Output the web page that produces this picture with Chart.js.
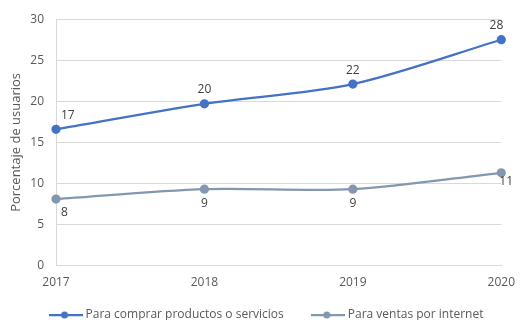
<!DOCTYPE html>
<html>
<head>
<meta charset="utf-8">
<script src="https://cdn.jsdelivr.net/npm/chart.js@4"></script>
<style>
  html, body { margin: 0; padding: 0; background: #fff; }
  #wrap { width: 525px; height: 320px; }
</style>
</head>
<body>
<div id="wrap"><canvas id="chart"></canvas></div>
<script>
var years = ["2017", "2018", "2019", "2020"];
var compras = [16.6, 19.7, 22.1, 27.5];
var ventas = [8.1, 9.3, 9.3, 11.3];
var seriesNames = ["Para comprar productos o servicios", "Para ventas por internet"];
var yTicks = [0, 5, 10, 15, 20, 25, 30];

var textColor = "#595959";
var gridColor = "#d9d9d9";
var fontFamily = "'Open Sans', 'Liberation Sans', sans-serif";

// legend marker: short line with a dot in the middle
makeMarker = (color) => {
    var c = document.createElement("canvas");
    c.width = 34; c.height = 10;
    var ctx = c.getContext("2d");
    ctx.strokeStyle = color;
    ctx.lineWidth = 2.25;
    ctx.beginPath(); ctx.moveTo(0, 5); ctx.lineTo(34, 5); ctx.stroke();
    ctx.fillStyle = color;
    ctx.beginPath(); ctx.arc(16, 5, 3.5, 0, Math.PI * 2); ctx.fill();
    return c;
}

// value labels above / below the points
var valueLabels = {
    id: "valueLabels",
    afterDatasetsDraw: (chart) => {
        var ctx = chart.ctx;
        ctx.save();
        ctx.font = "12px " + fontFamily;
        ctx.fillStyle = "#404040";
        ctx.textBaseline = "middle";
        chart.data.datasets.forEach((ds, di) => {
            var meta = chart.getDatasetMeta(di);
            meta.data.forEach((pt, i) => {
                var txt = String(Math.round(ds.data[i]));
                var x = pt.x, y = di === 0 ? pt.y - 14 : pt.y + 14;
                ctx.textAlign = "center";
                if (i === 0) { ctx.textAlign = "left"; x += 5; }
                if (i === ds.data.length - 1) {
                    if (di === 0) { ctx.textAlign = "right"; x += 2; }
                    else { ctx.textAlign = "left"; x -= 2; y -= 5; }
                }
                ctx.fillText(txt, x, y);
            });
        });
        ctx.restore();
    }
};

// legend: take less room at the bottom, nudge the items into place
var legendFit = {
    id: "legendFit",
    beforeUpdate: (chart) => {
        var lg = chart.legend;
        if (lg && !lg._patched) {
            var fit = lg.fit, draw = lg.draw;
            lg.fit = function () { fit.call(this); this.height -= 32; };
            lg.draw = function () {
                var dx = 12, dy = -21;
                this.top += dy; this.left += dx; this.right += dx;
                draw.call(this);
                this.top -= dy; this.left -= dx; this.right -= dx;
            };
            lg._patched = true;
        }
    }
};

drawChart = () => {
    var colors = ["#4472C4", "#8497B0"];
    new Chart(document.getElementById("chart"), {
        type: "line",
        data: {
            labels: years,
            datasets: [{
                label: seriesNames[0],
                data: compras,
                borderColor: colors[0],
                backgroundColor: colors[0],
                borderWidth: 2.25,
                pointRadius: 3.5,
                pointHoverRadius: 3.5,
                tension: 0.3,
                fill: false
            }, {
                label: seriesNames[1],
                data: ventas,
                borderColor: colors[1],
                backgroundColor: colors[1],
                borderWidth: 2.25,
                pointRadius: 3.5,
                pointHoverRadius: 3.5,
                tension: 0.3,
                fill: false
            }]
        },
        options: {
            responsive: true,
            maintainAspectRatio: false,
            animation: false,
            layout: { padding: { left: 0, right: 14, top: 14, bottom: 0 } },
            scales: {
                x: {
                    offset: false,
                    grid: { display: false, drawTicks: false },
                    border: { display: true, color: gridColor, width: 1 },
                    ticks: { color: textColor, font: { family: fontFamily, size: 12 }, padding: 10, maxRotation: 0 }
                },
                y: {
                    min: 0, max: 30,
                    afterBuildTicks: (axis) => { axis.ticks = yTicks.map(v => ({ value: v })); },
                    afterFit: (axis) => { axis.width = 56; },
                    grid: { color: gridColor, drawTicks: false },
                    border: { display: true, color: gridColor, width: 1 },
                    ticks: { color: textColor, font: { family: fontFamily, size: 12 }, padding: 12 },
                    title: {
                        display: true,
                        text: "Porcentaje de usuarios",
                        color: textColor,
                        font: { family: fontFamily, size: 13 },
                        padding: { top: 8, bottom: 0 }
                    }
                }
            },
            plugins: {
                legend: {
                    position: "bottom",
                    labels: {
                        color: textColor,
                        font: { family: fontFamily, size: 12 },
                        usePointStyle: true,
                        pointStyleWidth: 28,
                        padding: 30,
                        generateLabels: (chart) => {
                            var items = Chart.defaults.plugins.legend.labels.generateLabels(chart);
                            items.forEach((it, i) => { it.pointStyle = makeMarker(colors[i]); });
                            return items;
                        }
                    }
                },
                tooltip: { enabled: false }
            }
        },
        plugins: [valueLabels, legendFit]
    });
}

(function () {
    drawChart();
}());
</script>
</body>
</html>
